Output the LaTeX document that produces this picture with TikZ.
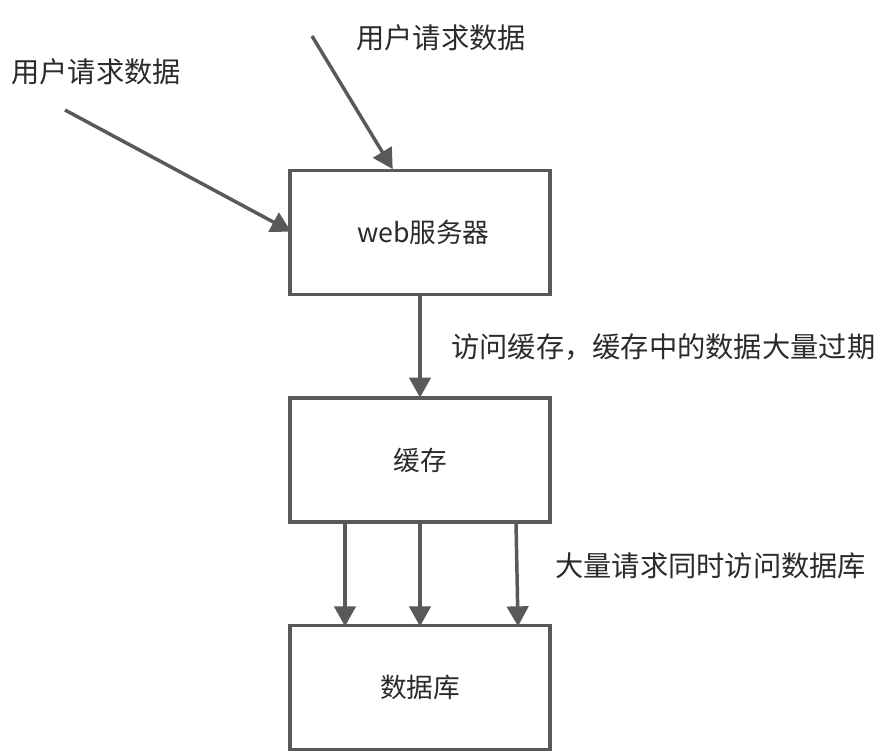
\documentclass[tikz,border=0pt]{standalone}
\usepackage{fontspec}
\setmainfont{Noto Sans CJK SC}
\usetikzlibrary{arrows.meta}
\definecolor{linegray}{HTML}{595959}
\definecolor{textgray}{HTML}{2B2B2B}
\begin{document}
\begin{tikzpicture}[x=0.75pt,y=-0.75pt,
  box/.style={draw=linegray,line width=2.6pt,fill=white,minimum width=195pt,minimum height=93pt,inner sep=0pt,text=textgray,font=\fontsize{20}{24}\selectfont},
  lbl/.style={anchor=west,inner sep=0pt,text=textgray,font=\fontsize{21.2}{25}\selectfont},
  arr/.style={draw=linegray,line width=2.6pt,-{Triangle[length=15pt,width=16pt]},shorten >=-1pt}]
\useasboundingbox[fill=white] (0,0) rectangle (879,754);
\node[box] (web) at (420,232.5) {\hspace*{5pt}web服务器};
\node[box] (cache) at (420,460) {缓存};
\node[box] (db) at (420,687.5) {数据库};
\node[lbl] (u1) at (11,72) {用户请求数据};
\node[lbl] (u2) at (356,38) {用户请求数据};
\node[lbl] (l1) at (451,347) {访问缓存，缓存中的数据大量过期};
\node[lbl] (l2) at (555,566) {大量请求同时访问数据库};
\coordinate (s1) at (65,110);
\coordinate (s2) at (312,36);
\coordinate (e1) at (290,231);
\coordinate (e2) at (392,168);
\draw[arr] (s1) -- (e1);
\draw[arr] (s2) -- (e2);
\draw[arr] (web.south) -- (cache.north);
\coordinate (a1) at (345,522); \coordinate (b1) at (345,625);
\coordinate (a2) at (420,522); \coordinate (b2) at (420,625);
\coordinate (a3) at (516,522); \coordinate (b3) at (518,625);
\draw[arr] (a1) -- (b1);
\draw[arr] (a2) -- (b2);
\draw[arr] (a3) -- (b3);
\end{tikzpicture}
\end{document}
